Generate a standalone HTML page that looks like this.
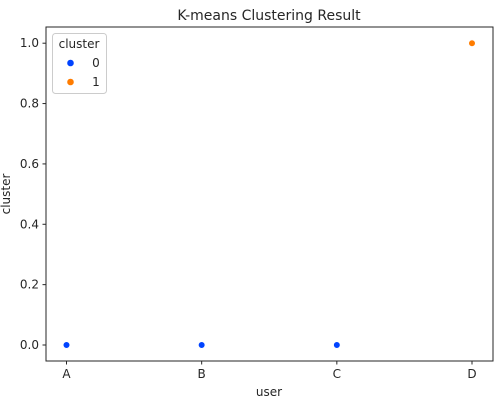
<!DOCTYPE html>
<html><head><meta charset="utf-8"><style>
body{margin:0;background:#fff;}
svg text{font-family:"DejaVu Sans","Liberation Sans",sans-serif;fill:#262626;}
</style></head><body>
<svg id="chart" width="494" height="405" xmlns="http://www.w3.org/2000/svg">
<text x="269" y="20" font-size="14" text-anchor="middle">K-means Clustering Result</text>
<g id="ticks"></g>
<g id="points"></g>
<rect x="46" y="27" width="447" height="334" fill="none" stroke="#262626" stroke-width="1"/>
<text x="269" y="396" font-size="12" text-anchor="middle">user</text>
<text x="10" y="194" font-size="12" text-anchor="middle" transform="rotate(-90 10 194)">cluster</text>
<g>
<rect x="52.5" y="33.5" width="54" height="60" rx="3" fill="#fff" fill-opacity="0.8" stroke="#ccc"/>
<text x="79" y="48" font-size="12" text-anchor="middle">cluster</text>
<g><circle cx="70.5" cy="63" r="3.3" fill="#0043ff"/><text x="96" y="67" font-size="12" text-anchor="middle">0</text></g>
<g><circle cx="70.5" cy="82" r="3.3" fill="#ff7c00"/><text x="96" y="86" font-size="12" text-anchor="middle">1</text></g>
</g>
</svg>
<script>
const users=["A","B","C","D"];
const clusters=[0,0,0,1];
const yTicks=[0,0.2,0.4,0.6,0.8,1.0];
const yTickLabels=["0.0","0.2","0.4","0.6","0.8","1.0"];
const colors=["#0043ff","#ff7c00"];
const NS="http://www.w3.org/2000/svg";
const xS=i=>66.5+i*(472-66.5)/(users.length-1);
const yS=v=>345-v*(345-43.2);
const tg=document.getElementById("ticks"),pg=document.getElementById("points");
function mk(tag,a,p){const e=document.createElementNS(NS,tag);for(const k in a)e.setAttribute(k,a[k]);p.appendChild(e);return e;}
users.forEach((u,i)=>{
 const l=mk("line",{x1:xS(i),x2:xS(i),y1:361,y2:364.5,stroke:"#262626"},tg);
 
 
 const t=mk("text",{x:xS(i),y:378,"font-size":12,"text-anchor":"middle"},tg);t.textContent=u;
 
 
 const c=mk("circle",{cx:xS(i),cy:yS(clusters[i]),r:3.3,fill:colors[clusters[i]],stroke:"#fff","stroke-width":0.6},pg);
 
 
});
yTicks.forEach((v,i)=>{
 const l=mk("line",{x1:42.5,x2:46,y1:yS(v),y2:yS(v),stroke:"#262626"},tg);
 
 
 const t=mk("text",{x:39,y:yS(v)+4,"font-size":12,"text-anchor":"end"},tg);t.textContent=yTickLabels[i];
 
 
});
</script>
</body></html>
